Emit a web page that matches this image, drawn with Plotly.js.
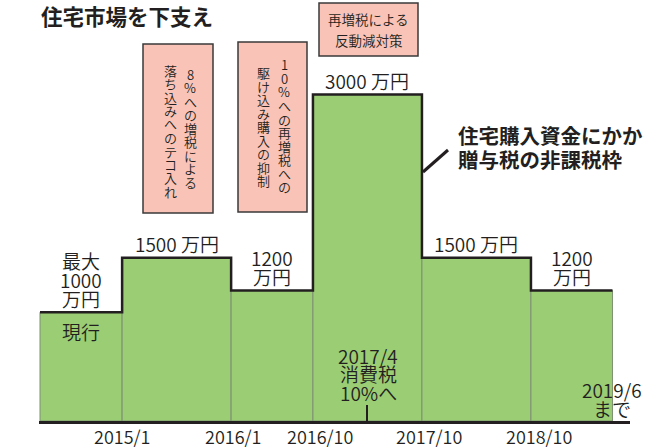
<!DOCTYPE html>
<html>
<head>
<meta charset="utf-8">
<script src="https://cdn.plot.ly/plotly-3.0.1.min.js"></script>
<style>html,body{margin:0;padding:0;background:#fff;}#chart{width:645px;height:448px;}</style>
</head>
<body>
<div id="chart"></div>
<script>
// ---- data ----
const periodStarts = ['2014-04-01','2015-01-01','2016-01-01','2016-10-01','2017-10-01','2018-10-01'];
const periodEnd = '2019-07-01';
const limits = [1000, 1500, 1200, 3000, 1500, 1200]; // 万円
const limitLabels = [['最大','1000','万円'], ['1500 万円'], ['1200','万円'], ['3000 万円'], ['1500 万円'], ['1200','万円']];
const currentLabel = '現行';
const tickDates = ['2015-01-01','2016-01-01','2016-10-01','2017-10-01','2018-10-01'];
const tickLabels = ['2015/1','2016/1','2016/10','2017/10','2018/10'];
const taxDate = '2017-04-01';
const taxLabel = ['2017/4','消費税','10%へ'];
const endLabel = ['2019/6','まで'];
const titleText = '住宅市場を下支え';
const calloutLines = ['住宅購入資金にかか','贈与税の非課税枠'];
const box1Cols = ['8%への増税による','落ち込みへのテコ入れ'];
const box2Cols = ['10%への再増税への','駆け込み購入の抑制'];
const box3Lines = ['再増税による','反動減対策'];

// ---- layout helpers ----
const FONT = '"Noto Sans CJK JP", "Noto Sans", sans-serif';
const TXT = '#231f20';
const LIGHT = 350;
const W = 645, H = 448, ML = 39, MR = 15, MT = 0, MB = 27;
const PW = W - ML - MR, PH = H - MT - MB;
const X = px => (px - ML) / PW;
const Y = py => (H - MB - py) / PH;
const DAY = 864e5;
const t0 = Date.parse(periodStarts[0]);
const pxPerMs = 109 / (365 * DAY);
const xRange = [t0 - 1 / pxPerMs, t0 + (PW - 1) / pxPerMs];

const ends = periodStarts.slice(1).concat([periodEnd]);
const mids = periodStarts.map((s, i) => (Date.parse(s) + Date.parse(ends[i])) / 2);
const widths = periodStarts.map((s, i) => Date.parse(ends[i]) - Date.parse(s));

const traces = [
  {type:'bar', x: mids, y: limits, width: widths,
   marker:{color:'#9acd74', line:{color:'#7d8f72', width:1}}, hoverinfo:'skip'},
  {type:'scatter', mode:'lines', x: periodStarts.concat([periodEnd]), y: limits.concat([limits[limits.length-1]]),
   line:{shape:'hv', color:'#231f20', width:2.5}, hoverinfo:'skip'}
];

const annotations = [];
function txt(text, o) {
  annotations.push(Object.assign({text: text, showarrow:false, xanchor:'center', yanchor:'middle',
    font:{family:FONT, size:19, color:TXT, weight:LIGHT}}, o));
}
// labels above bars (stacked from bottom, pitch 19px)
limitLabels.forEach((lines, i) => {
  const n = lines.length;
  lines.forEach((ln, k) => {
    txt(ln, {x: mids[i], xref:'x', y: limits[i], yref:'y', yshift: 14 + (n - 1 - k) * 19});
  });
});
txt(currentLabel, {x: mids[0], xref:'x', y: limits[0], yref:'y', yshift: -19});
// axis labels
const tickShift = [0, 2, 7, 7, 8];
tickLabels.forEach((t, i) => txt(t, {x: tickDates[i], xref:'x', y: 0, yref:'y', yshift: -15, xshift: tickShift[i],
  font:{family:FONT, size:18, color:TXT, weight:LIGHT}}));
taxLabel.forEach((t, k) => txt(t, {x: taxDate, xref:'x', y: 0, yref:'y', yshift: 66 - k * 18.5, xshift: 1}));
endLabel.forEach((t, k) => txt(t, {x: periodEnd, xref:'x', y: 0, yref:'y', yshift: 32 - k * 19}));
// title
txt(titleText, {xref:'paper', yref:'paper', x: X(39), y: Y(15), xanchor:'left',
  font:{family:FONT, size:21.5, color:TXT, weight:'bold'}});
// callout
calloutLines.forEach((t, k) => txt(t, {xref:'paper', yref:'paper', x: X(456), y: Y(135 + k * 24), xanchor:'left',
  font:{family:FONT, size:20.5, color:TXT, weight:'bold'}}));
// vertical text in boxes
function vcol(text, cx, cy0) {
  Array.from(text).forEach((ch, i) => txt(ch, {xref:'paper', yref:'paper', x: X(cx), y: Y(cy0 + i * 13.5),
    font:{family:FONT, size:13, color:TXT, weight:LIGHT}}));
}
vcol(box1Cols[0], 190, 74);
vcol(box1Cols[1], 170, 70);
vcol(box2Cols[0], 284, 65);
vcol(box2Cols[1], 263, 72.5);
box3Lines.forEach((t, k) => txt(t, {xref:'paper', yref:'paper', x: X(368.5), y: Y(19 + k * 21),
  font:{family:FONT, size:13.5, color:TXT, weight:LIGHT}}));

const boxStyle = {type:'rect', xref:'paper', yref:'paper', fillcolor:'#f9c4b7', line:{color:'#3a3a3a', width:1.5}, layer:'above'};
const shapes = [
  Object.assign({x0:X(143), x1:X(213), y0:Y(44), y1:Y(213)}, boxStyle),
  Object.assign({x0:X(238), x1:X(307), y0:Y(42), y1:Y(212)}, boxStyle),
  Object.assign({x0:X(319), x1:X(418), y0:Y(3), y1:Y(56)}, boxStyle),
  {type:'line', xref:'paper', yref:'paper', x0:X(423), y0:Y(172), x1:X(448), y1:Y(150), line:{color:'#231f20', width:3}}
];

const layout = {
  width: W, height: H, margin:{l:ML, r:MR, t:MT, b:MB, pad:0},
  paper_bgcolor:'#fff', plot_bgcolor:'#fff', showlegend:false, bargap:0,
  font:{family:FONT, color:TXT},
  xaxis:{type:'date', range:xRange, showgrid:false, zeroline:false, showline:true, linecolor:'#231f20', linewidth:2.5,
    tickvals:[taxDate], ticks:'inside', ticklen:16, tickwidth:2, tickcolor:'#231f20', showticklabels:false, fixedrange:true},
  yaxis:{range:[0, PH / 0.1088], visible:false, showgrid:false, zeroline:false, fixedrange:true},
  annotations: annotations, shapes: shapes
};
Plotly.newPlot('chart', traces, layout, {displayModeBar:false, staticPlot:true});
</script>
</body>
</html>
